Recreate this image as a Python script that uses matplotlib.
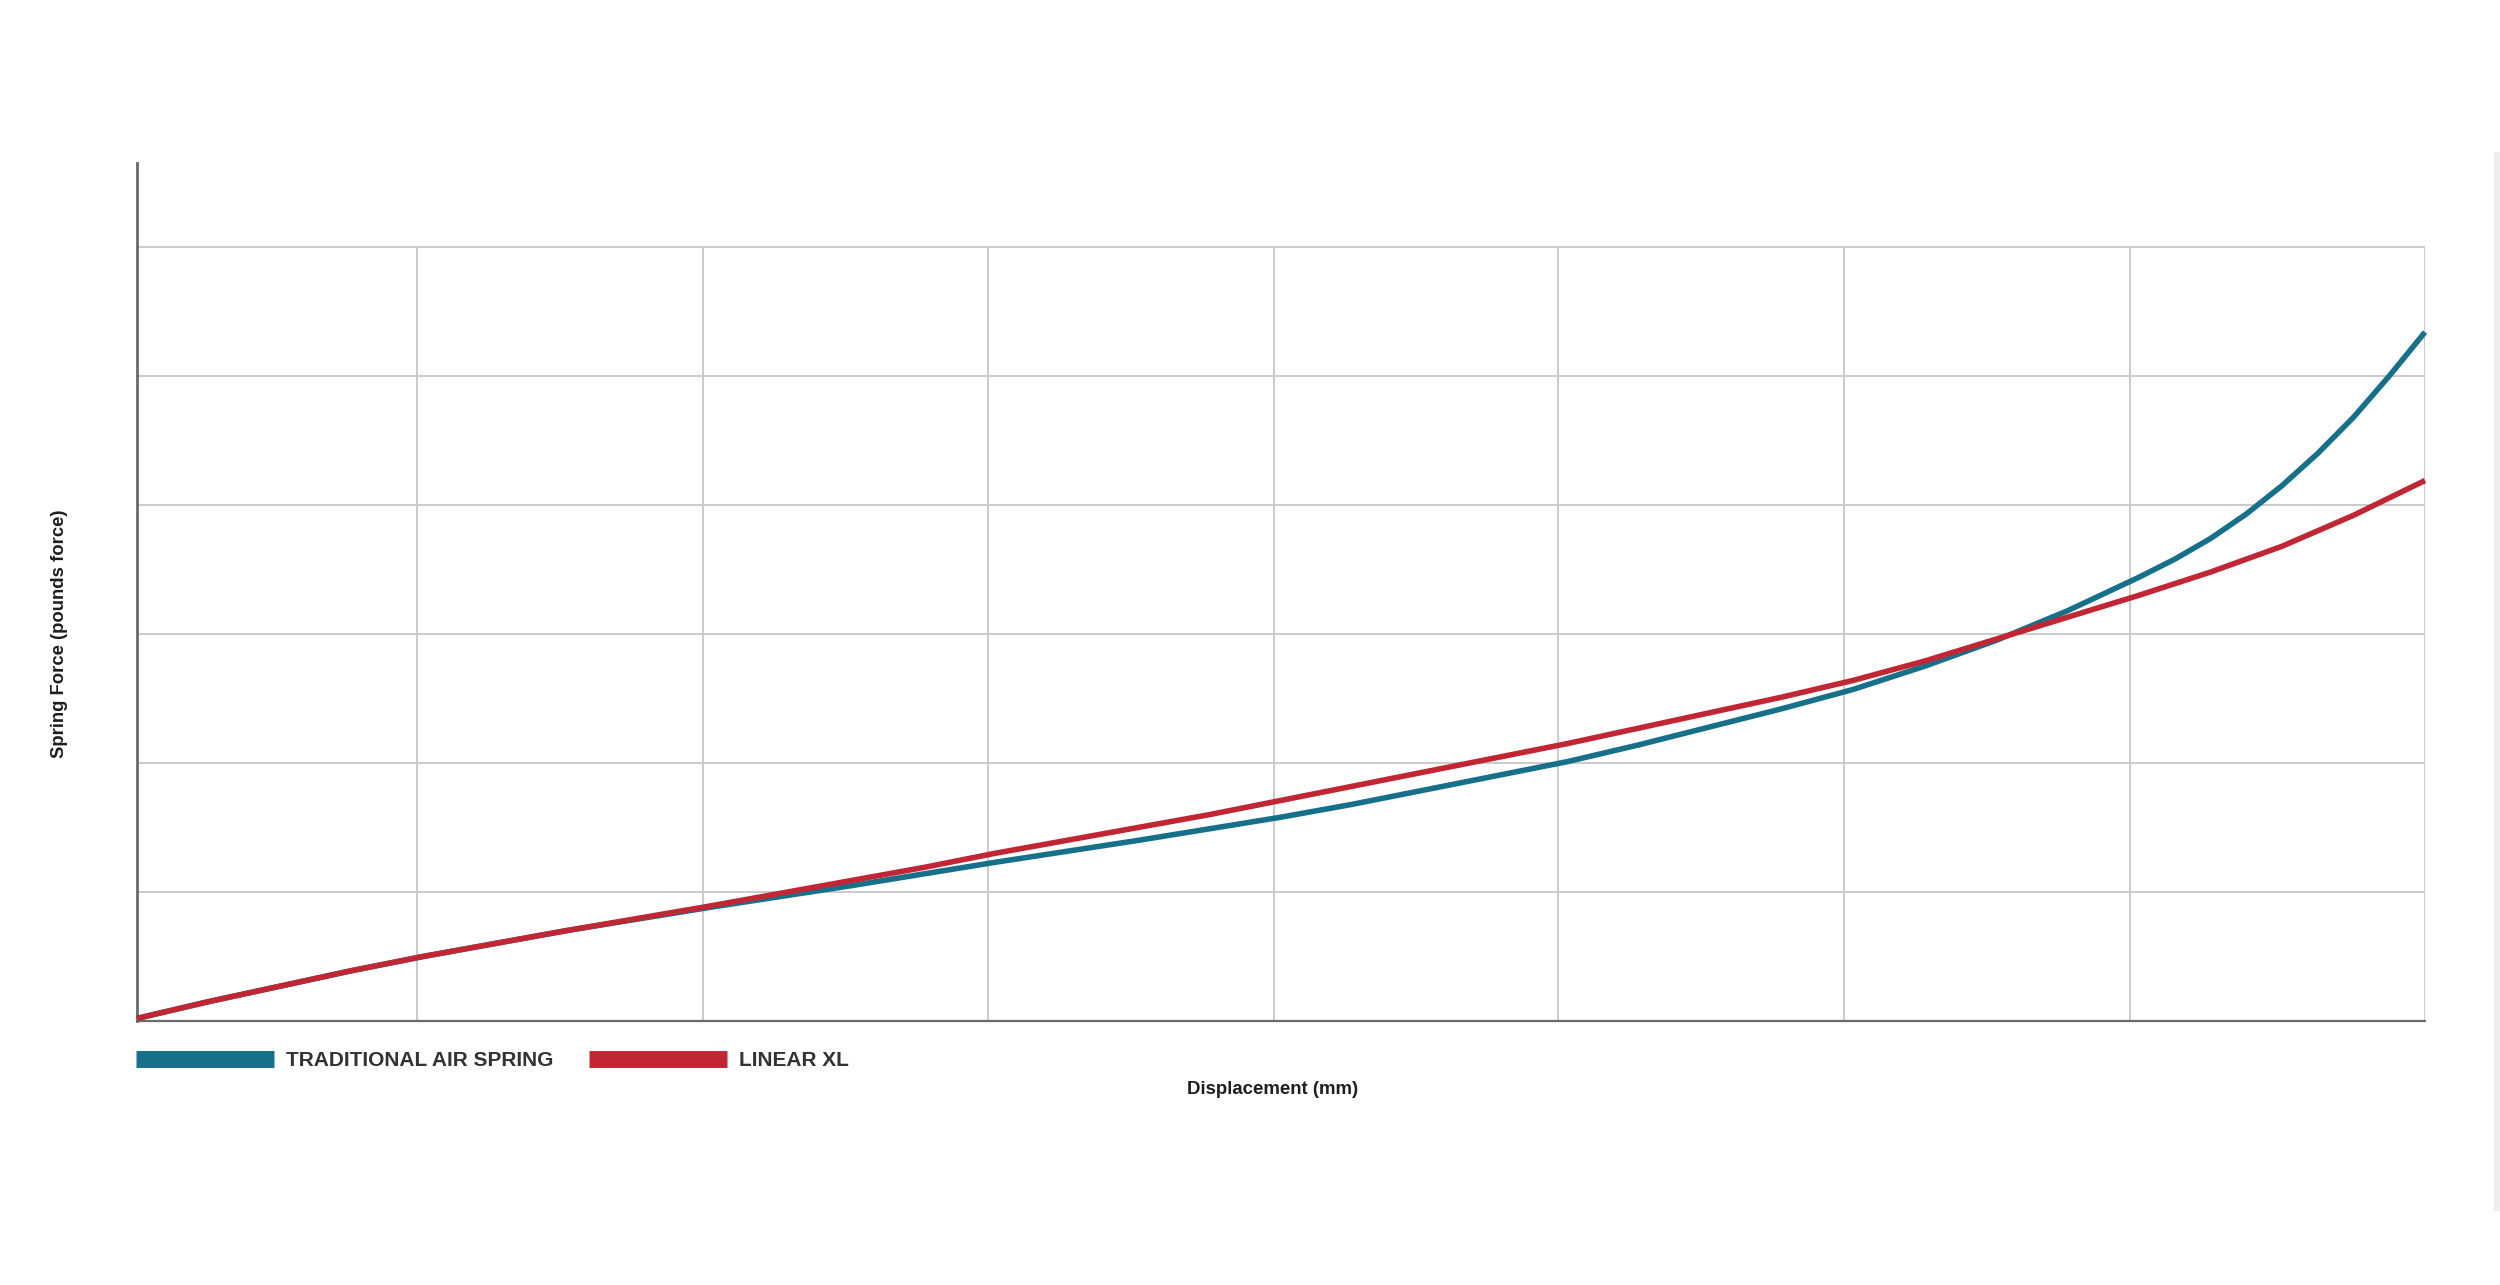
import matplotlib
matplotlib.use("Agg")
import matplotlib.pyplot as plt
from matplotlib.lines import Line2D
from matplotlib.patches import Rectangle

# ---- data ----
trad_x = [0, 0.25, 0.5, 0.75, 1, 1.25, 1.5, 1.75, 2, 2.25, 2.5, 2.75, 3, 3.25, 3.5, 3.75,
          4, 4.25, 4.5, 4.75, 5, 5.25, 5.5, 5.75, 6, 6.25, 6.5, 6.75, 7, 7.125, 7.25,
          7.375, 7.5, 7.625, 7.75, 7.875, 8]
trad_y = [0.02, 0.15, 0.27, 0.39, 0.50, 0.60, 0.70, 0.79, 0.88, 0.965, 1.05, 1.14, 1.23, 1.315, 1.40, 1.49,
          1.58, 1.68, 1.79, 1.90, 2.01, 2.14, 2.28, 2.42, 2.57, 2.75, 2.95, 3.18, 3.44, 3.58, 3.74,
          3.93, 4.15, 4.40, 4.68, 5.00, 5.34]

lin_x = [0, 0.25, 0.5, 0.75, 1, 1.25, 1.5, 1.75, 2, 2.25, 2.5, 2.75, 3, 3.25, 3.5, 3.75,
         4, 4.25, 4.5, 4.75, 5, 5.25, 5.5, 5.75, 6, 6.25, 6.5, 6.75, 7, 7.25, 7.5, 7.75, 8]
lin_y = [0.02, 0.15, 0.27, 0.39, 0.50, 0.60, 0.70, 0.795, 0.89, 0.99, 1.09, 1.19, 1.30, 1.40, 1.50, 1.60,
         1.71, 1.82, 1.93, 2.04, 2.15, 2.27, 2.39, 2.51, 2.64, 2.79, 2.96, 3.13, 3.30, 3.48, 3.68, 3.92, 4.19]

x_grid = [0.98, 1.98, 2.975, 3.975, 4.97, 5.97, 6.97, 8.0]
y_grid = [1, 2, 3, 4, 5, 6]

series_labels = ["TRADITIONAL AIR SPRING", "LINEAR XL"]
series_colors = ["#17708a", "#c12634"]
x_label = "Displacement (mm)"
y_label = "Spring Force (pounds force)"

plt.rcParams["lines.solid_capstyle"] = "butt"
plt.rcParams["lines.solid_joinstyle"] = "round"

W, H = 2500, 1285
fig = plt.figure(figsize=(25, 12.85), dpi=100)
fig.patch.set_facecolor("white")

left, right, bottom, top = 137 / W, 2425 / W, 1 - 1021 / H, 1 - 163 / H
ax = fig.add_axes([left, bottom, right - left, top - bottom])
ax.set_xlim(0, 8)
ax.set_ylim(0, 6 * (1021 - 163) / (1021 - 247))

for s in ["top", "right"]:
    ax.spines[s].set_visible(False)
ax.spines["left"].set_color("#6a6a6a")
ax.spines["left"].set_linewidth(2.0)
ax.spines["bottom"].set_color("#6a6a6a")
ax.spines["bottom"].set_linewidth(1.6)
ax.set_xticks([])
ax.set_yticks([])

grid_c = "#cbcbcb"
ax.hlines(y_grid, 0, 8, colors=grid_c, linewidth=1.4, zorder=1)
ax.vlines(x_grid, 0, 6, colors=grid_c, linewidth=1.4, zorder=1)

ax.plot(trad_x, trad_y, color=series_colors[0], linewidth=4.0, zorder=3, clip_on=False)
ax.plot(lin_x, lin_y, color=series_colors[1], linewidth=4.0, zorder=4, clip_on=False)

# axis labels
fig.text(59 / W, 1 - 634 / H, y_label, rotation=90, ha="center", va="center",
         fontsize=13.3, fontweight="bold", color="#1e1e1e", family=["Liberation Sans", "DejaVu Sans"])
fig.text(1273 / W, 1 - 1090 / H, x_label, ha="center", va="center",
         fontsize=13.4, fontweight="bold", color="#1e1e1e", family=["Liberation Sans", "DejaVu Sans"])

# legend
handles = [Line2D([], [], color=c, linewidth=12.2, solid_capstyle="butt") for c in series_colors]
leg = fig.legend(handles, series_labels, ncol=2, loc="center left",
                 bbox_to_anchor=(136 / W, 1 - 1061 / H), bbox_transform=fig.transFigure,
                 frameon=False, borderpad=0, borderaxespad=0,
                 handlelength=6.63, handletextpad=0.58, columnspacing=1.68,
                 prop={"family": ["Liberation Sans", "DejaVu Sans"],
                       "weight": "bold", "size": 15})
for t in leg.get_texts():
    t.set_color("#333333")

# faint strip at the right edge of the page
fig.add_artist(Rectangle((2494 / W, 1 - 1211 / H), 6 / W, (1211 - 152) / H,
                         transform=fig.transFigure, facecolor="#eeeeee", edgecolor="none"))

fig.savefig("out.png", dpi=100, facecolor="white")
